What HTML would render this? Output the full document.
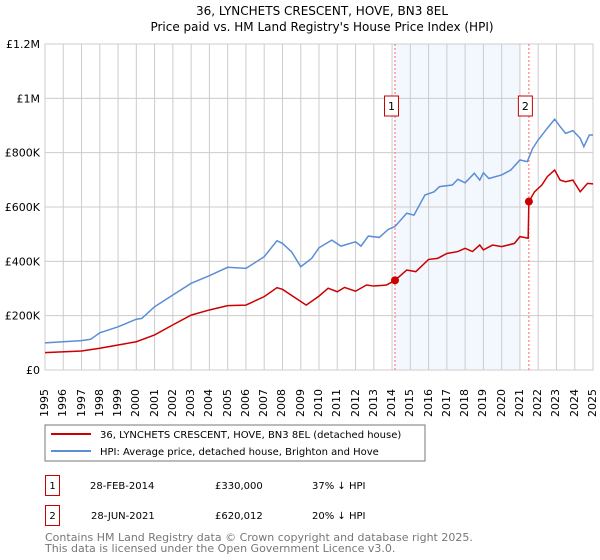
<!DOCTYPE html>
<html><head><meta charset="utf-8"><style>
body{margin:0;background:#fff;font-family:"DejaVu Sans","Liberation Sans",sans-serif;}
svg{display:block}
#wrap{position:relative;width:600px;height:560px}
.xl{position:absolute;top:377px;width:14px;height:40px;font-size:11px;line-height:14px;writing-mode:vertical-rl;transform:rotate(180deg);text-align:left;white-space:nowrap}
</style></head><body>
<div id="wrap">
<svg id="chart" width="600" height="560">
<text x="322" y="15" text-anchor="middle" font-size="12">36, LYNCHETS CRESCENT, HOVE, BN3 8EL</text>
<text x="322" y="31" text-anchor="middle" font-size="12">Price paid vs. HM Land Registry's House Price Index (HPI)</text>
<g id="grid"></g><g id="marks"></g><g id="axes"></g>
<rect x="45" y="425" width="380" height="36" fill="#fff" stroke="#777"/>
<line x1="51" y1="434" x2="91" y2="434" stroke="#cc0000" stroke-width="2"/>
<text x="100" y="438" font-size="10">36, LYNCHETS CRESCENT, HOVE, BN3 8EL (detached house)</text>
<line x1="51" y1="451" x2="91" y2="451" stroke="#5b8ed6" stroke-width="2"/>
<text x="100" y="455" font-size="10">HPI: Average price, detached house, Brighton and Hove</text>
<g font-size="10">
<rect x="45.5" y="475.5" width="14" height="20" fill="none" stroke="#cc0000"/>
<text x="52.5" y="489" text-anchor="middle">1</text>
<text x="90" y="489">28-FEB-2014</text><text x="215" y="489">£330,000</text><text x="312" y="489">37% ↓ HPI</text>
<rect x="45.5" y="505.5" width="14" height="20" fill="none" stroke="#cc0000"/>
<text x="52.5" y="519" text-anchor="middle">2</text>
<text x="91" y="519">28-JUN-2021</text><text x="215" y="519">£620,012</text><text x="312" y="519">20% ↓ HPI</text>
</g>
<text x="45" y="541" font-size="11" fill="#777">Contains HM Land Registry data © Crown copyright and database right 2025.</text>
<text x="45" y="552" font-size="11" fill="#777">This data is licensed under the Open Government Licence v3.0.</text>
</svg>
</div>
<script>
const yTicks=[0,200000,400000,600000,800000,1000000,1200000];
const yTickLabels=["£0","£200K","£400K","£600K","£800K","£1M","£1.2M"];
const hpiYears=[1995,1996,1997,1997.5,1998,1999,2000,2000.3,2001,2002,2003,2004,2005,2006,2007,2007.7,2008,2008.5,2009,2009.6,2010,2010.7,2011.2,2012,2012.3,2012.7,2013.3,2013.8,2014.16,2014.8,2015.2,2015.8,2016.3,2016.6,2017.3,2017.6,2018,2018.5,2018.8,2019,2019.3,2020,2020.5,2021,2021.4,2021.7,2022,2022.5,2022.9,2023.2,2023.5,2023.9,2024.3,2024.5,2024.8,2025];
const hpiValues=[100,104,108,113,137,159,187,190,233,276,319,347,378,374,417,476,466,435,380,411,450,478,456,472,456,493,488,518,528,577,570,644,656,675,681,702,689,724,699,726,705,718,736,773,767,816,847,890,923,896,871,881,853,822,865,865];
const priceYears=[1995,1997,1998,1999,2000,2001,2002,2003,2004,2005,2006,2007,2007.7,2008,2009.3,2010,2010.5,2011,2011.4,2012,2012.6,2013,2013.7,2014.16,2014.8,2015.3,2016,2016.5,2017,2017.6,2018,2018.4,2018.8,2019,2019.5,2020,2020.7,2021,2021.45,2021.49,2021.8,2022.2,2022.5,2022.9,2023.2,2023.5,2023.9,2024.3,2024.7,2025];
const priceValues=[64,70,80,92,104,129,166,202,221,237,239,270,303,297,239,272,301,288,304,290,313,309,313,330,368,362,407,411,429,436,448,436,460,442,460,454,466,491,485,620,656,681,712,736,699,693,699,656,687,685];
const saleYears=[2014.16,2021.49];
const saleValues=[330,620.012];
const saleLabels=["1","2"];
const x=y=>45+(y-1995)*(548/30);
const yv=v=>370-v*(326/1200000);
const NS="http://www.w3.org/2000/svg";
function mk(p,t,a){const e=document.createElementNS(NS,t);for(const k in a)e.setAttribute(k,a[k]);p.appendChild(e);return e;}
const grid=document.getElementById('grid'),marks=document.getElementById('marks'),axes=document.getElementById('axes');
const wrap=document.getElementById('wrap');
const bg=mk(grid,'rect',{x:45,y:44,width:548,height:326,fill:'#fff',stroke:'#ccc'});


const sh=mk(grid,'rect',{x:x(saleYears[0]),y:44,width:x(2021.0)-x(saleYears[0]),height:326,fill:'#eef3fd',opacity:0.7});


for(let yr=1995;yr<=2025;yr++){
 const l=mk(grid,'line',{x1:x(yr),x2:x(yr),y1:44,y2:370,stroke:'#ccc'});
 
 
 const d=document.createElement('div');
 d.className='xl';
 d.style.left=(x(yr)-7)+'px';
 d.textContent=yr;
 
 
 wrap.appendChild(d);
}
yTicks.forEach((v,i)=>{
 const l=mk(grid,'line',{x1:45,x2:593,y1:yv(v),y2:yv(v),stroke:'#ccc'});
 
 
 const t=mk(axes,'text',{x:40,y:yv(v)+4,'font-size':11,'text-anchor':'end'});
 t.textContent=yTickLabels[i];
 
 
});
saleYears.forEach((s,i)=>{
 const l=mk(marks,'line',{x1:x(s),x2:x(s),y1:44,y2:370,stroke:'#ff6666','stroke-dasharray':'2,2'});
 
 
 const r=mk(marks,'rect',{x:x(s)-10.5,y:96,width:14,height:20,fill:'#fff',stroke:'#cc0000'});
 
 
 const t=mk(marks,'text',{x:x(s)-3.5,y:110,'font-size':11,'text-anchor':'middle'});
 t.textContent=saleLabels[i];
 
 
});
const hp=mk(marks,'polyline',{points:hpiYears.map((yr,i)=>x(yr)+','+yv(hpiValues[i]*1000)).join(' '),fill:'none',stroke:'#5b8ed6','stroke-width':1.5});


const pp=mk(marks,'polyline',{points:priceYears.map((yr,i)=>x(yr)+','+yv(priceValues[i]*1000)).join(' '),fill:'none',stroke:'#cc0000','stroke-width':1.5});


saleYears.forEach((s,i)=>{
 const c=mk(marks,'circle',{cx:x(s),cy:yv(saleValues[i]*1000),r:4,fill:'#cc0000'});
 
 
});
</script>
</body></html>
